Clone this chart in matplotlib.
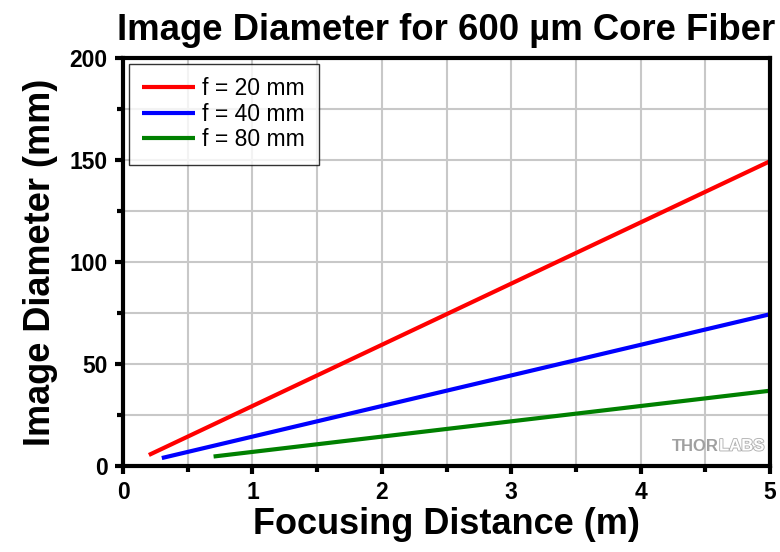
import matplotlib
matplotlib.use("Agg")
import matplotlib.pyplot as plt
from matplotlib.ticker import MultipleLocator
import matplotlib.patheffects as pe

labels = ["f = 20 mm", "f = 40 mm", "f = 80 mm"]
colors = ["#ff0000", "#0000ff", "#008000"]
x_start = [0.2, 0.3, 0.7]
x_end = [5.0, 5.0, 5.0]
y_start = [5.4, 3.9, 4.65]
y_end = [149.4, 74.4, 36.9]

plt.rcParams['font.family'] = ['Liberation Sans', 'DejaVu Sans']
fig = plt.figure(figsize=(7.8, 5.52), dpi=100)
ax = fig.add_axes([123/780, 1-466/552, (770-123)/780, (466-58)/552])

for lab, c, x0, x1, y0, y1 in zip(labels, colors, x_start, x_end, y_start, y_end):
    ax.plot([x0, x1], [y0, y1], color=c, lw=3, label=lab, solid_capstyle='butt')

ax.set_xlim(0, 5)
ax.set_ylim(0, 200)
ax.xaxis.set_major_locator(MultipleLocator(1))
ax.xaxis.set_minor_locator(MultipleLocator(0.5))
ax.yaxis.set_major_locator(MultipleLocator(50))
ax.yaxis.set_minor_locator(MultipleLocator(25))
ax.grid(True, which='both', color='#c8c8c8', lw=1.5)
ax.set_axisbelow(True)
for s in ax.spines.values():
    s.set_linewidth(3)
ax.tick_params(which='major', direction='out', length=6, width=3, labelsize=16.5, pad=5)
ax.tick_params(which='minor', direction='out', length=4, width=3)
for lbl in ax.get_xticklabels() + ax.get_yticklabels():
    lbl.set_fontweight('bold')
ax.set_xlabel("Focusing Distance (m)", fontsize=26, fontweight='bold', labelpad=2)
ax.set_ylabel("Image Diameter (mm)", fontsize=26, fontweight='bold', labelpad=8)
ax.set_title("Image Diameter for 600 µm Core Fiber", fontsize=26.3, fontweight='bold', pad=13)

leg = ax.legend(loc='upper left', fontsize=16.5, frameon=True, fancybox=False,
                edgecolor='black', handlelength=2.3, handletextpad=0.3,
                borderaxespad=0.25, labelspacing=0.1, borderpad=0.6)
leg.get_frame().set_linewidth(1)

ax.text(4.606, 9.8, "THOR", fontsize=12, fontweight='bold', color='#a0a0a0',
        ha='right', va='center', zorder=5)
ax.text(4.606, 9.8, "LABS", fontsize=12, fontweight='bold', color='white',
        ha='left', va='center', zorder=5,
        path_effects=[pe.withStroke(linewidth=1.3, foreground='#b0b0b0')])

fig.savefig("out.png", dpi=100)
